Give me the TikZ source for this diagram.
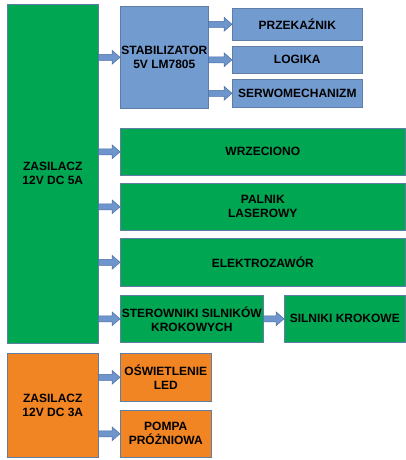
\documentclass[tikz,border=0pt]{standalone}
\usepackage{fontspec}
\setmainfont{Liberation Sans}
\usetikzlibrary{calc}

\definecolor{boxgreen}{RGB}{0,166,81}
\definecolor{boxblue}{RGB}{114,155,208}
\definecolor{boxorange}{RGB}{242,133,35}
\definecolor{boxline}{RGB}{95,125,165}
\definecolor{arrowfill}{RGB}{110,150,205}
\definecolor{arrowline}{RGB}{75,110,165}

\tikzset{
  blok/.style={draw=boxline, line width=0.6pt, anchor=north west, inner sep=0pt,
    align=center, font=\bfseries\fontsize{12}{14}\selectfont, text=black},
  zielony/.style={blok, fill=boxgreen},
  niebieski/.style={blok, fill=boxblue},
  pomarancz/.style={blok, fill=boxorange},
  strzalka/.style={draw=arrowline, line width=0.5pt, fill=arrowfill, to path={
      let \p1=(\tikztostart), \p2=(\tikztotarget) in
      (\x1,\y1+3pt) -- (\x2-8pt,\y1+3pt) -- (\x2-8pt,\y1+7pt) -- (\x2,\y1)
      -- (\x2-8pt,\y1-7pt) -- (\x2-8pt,\y1-3pt) -- (\x1,\y1-3pt) -- cycle}}
}

\begin{document}
\begin{tikzpicture}[x=1pt,y=-1pt]
  \useasboundingbox (0,0) rectangle (406,460);
  % zasilacz 5A
  \node[zielony, minimum width=91pt, minimum height=339pt] (zas5) at (7,4) {ZASILACZ\\12V DC 5A};
  % stabilizator i odbiorniki 5V
  \node[niebieski, minimum width=88pt, minimum height=102pt] (stab) at (120,6) {STABILIZATOR\\5V LM7805};
  \node[niebieski, minimum width=130pt, minimum height=32pt] (prz) at (232,8) {PRZEKAŹNIK};
  \node[niebieski, minimum width=130pt, minimum height=27pt] (log) at (232,46) {LOGIKA};
  \node[niebieski, minimum width=130pt, minimum height=28pt] (serwo) at (232,79) {SERWOMECHANIZM};
  % odbiorniki 12V
  \node[zielony, minimum width=285pt, minimum height=47pt] (wrz) at (120,128) {WRZECIONO};
  \node[zielony, minimum width=285pt, minimum height=47pt] (laser) at (120,183) {PALNIK\\LASEROWY};
  \node[zielony, minimum width=285pt, minimum height=48pt] (zawor) at (120,238) {ELEKTROZAWÓR};
  \node[zielony, minimum width=143pt, minimum height=47pt] (ster) at (120,295) {STEROWNIKI SILNIKÓW\\KROKOWYCH};
  \node[zielony, minimum width=121pt, minimum height=47pt] (silniki) at (284,295) {SILNIKI KROKOWE};
  % zasilacz 3A
  \node[pomarancz, minimum width=91pt, minimum height=104pt] (zas3) at (7,353) {ZASILACZ\\12V DC 3A};
  \node[pomarancz, minimum width=91pt, minimum height=48pt] (led) at (120,353) {OŚWIETLENIE\\LED};
  \node[pomarancz, minimum width=91pt, minimum height=47pt] (pompa) at (120,410) {POMPA\\PRÓŻNIOWA};
  % strzalki
  \foreach \a/\b in {zas5/stab, stab/prz, stab/log, stab/serwo, zas5/wrz, zas5/laser,
      zas5/zawor, zas5/ster, ster/silniki, zas3/led, zas3/pompa} {
    \path[strzalka] (\a.east |- \b.west) to (\b.west);
  }
\end{tikzpicture}
\end{document}
